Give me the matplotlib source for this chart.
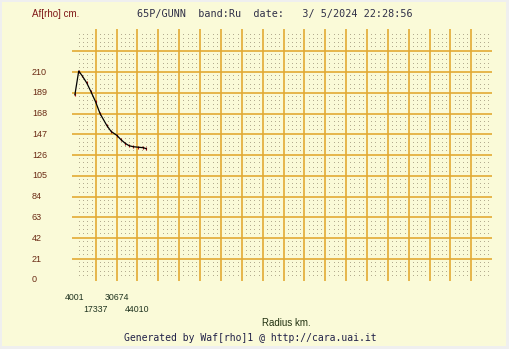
#!/usr/bin/env python

# Af[rho] profile for 65P/Gunn, redrawn in the style of the Waf[rho] output.

import numpy as np
import matplotlib

matplotlib.use("Agg")
import matplotlib.pyplot as plt
from matplotlib.patches import Rectangle
from matplotlib.transforms import blended_transform_factory

# data
radius_km = [4001, 6440, 8750, 11570, 14320, 17200, 20090, 24390, 27140,
             30800, 33550, 36120, 38680, 41440, 44640, 47850, 49570]
afrho_cm = [187, 211, 206, 199, 190, 180, 168, 156, 150,
            146, 141.5, 138, 135.5, 134.5, 134, 133.5, 132.5]
afrho_err = [1.5] * len(radius_km)

x_tick_labels = ["4001", "17337", "30674", "44010"]
y_tick_values = [0, 21, 42, 63, 84, 105, 126, 147, 168, 189, 210]

title = "65P/GUNN  band:Ru  date:   3/ 5/2024 22:28:56"
footer = "Generated by Waf[rho]1 @ http://cara.uai.it"

W, H = 509, 349
bg = "#FAFAD8"
grid_col = "#E2AA34"
dot_col = "#B4AC90"

fig = plt.figure(figsize=(W / 100, H / 100), dpi=100, facecolor="#EFEFEF")
fig.patches.append(
    Rectangle((2 / W, 3 / H), 504 / W, 344 / H, transform=fig.transFigure,
              facecolor=bg, edgecolor="none", zorder=-10)
)

ax = fig.add_axes([72 / W, 68 / H, 420 / W, 252 / H])
ax.set_zorder(1)
ax.set_facecolor(bg)
for s in ax.spines.values():
    s.set_visible(False)

x_step = 13336.33
x0 = float(x_tick_labels[0])
ax.set_xlim(2150, 270600)
ax.set_ylim(-1.2, 253.5)

# major grid
xmaj = x0 + x_step * np.arange(1, 20)
ymaj = np.arange(21, 232, 21)
for xv in xmaj:
    ax.axvline(xv, color=grid_col, lw=1.2, zorder=1)
for yv in ymaj:
    ax.axhline(yv, color=grid_col, lw=1.2, zorder=1)

# dotted minor grid (dots at minor intersections)
xmin = x0 + x_step / 5 * np.arange(-1, 101)
ymin = 21 / 5 * np.arange(0, 61)
gx, gy = np.meshgrid(xmin, ymin)
keep = (np.abs(((gx - x0) / x_step) - np.round((gx - x0) / x_step)) > 0.05) & \
       (np.abs((gy / 21) - np.round(gy / 21)) > 0.05)
ax.plot(gx[keep], gy[keep], ",", color=dot_col, zorder=0.5)

ax.set_xticks([])
ax.set_yticks([])

# curve with small error ticks
ax.errorbar(radius_km, afrho_cm, yerr=afrho_err, fmt="none",
            ecolor="#B01010", elinewidth=0.8, capsize=0, zorder=3)
ax.plot(radius_km, afrho_cm, color="black", lw=0.9, zorder=4)

font = "Liberation Sans"

# y labels
ytr = blended_transform_factory(fig.transFigure, ax.transData)
for v in y_tick_values:
    fig.text(32 / W, v, str(v), transform=ytr, ha="left", va="center",
             fontsize=6.5, color="#6A2A14", family=font)

# x labels, staggered in two rows
xtr = blended_transform_factory(ax.transData, fig.transFigure)
for i, lab in enumerate(x_tick_labels):
    xv = x0 + x_step * i
    yy = 1 - (298 if i % 2 == 0 else 310) / H
    ax.text(xv, yy, lab, transform=xtr, ha="center", va="center",
            fontsize=6.3, color="#203420", family=font)

fig.text(32 / W, 1 - 14 / H, "Af[rho] cm.", ha="left", va="center",
         fontsize=7, color="#801818", family=font)
fig.text(137 / W, 1 - 14 / H, title, ha="left", va="center",
         fontsize=7.3, color="#303048", family="DejaVu Sans Mono")
fig.text(262 / W, 1 - 323 / H, "Radius km.", ha="left", va="center",
         fontsize=7, color="#203010", family=font)
fig.text(124 / W, 1 - 338 / H, footer, ha="left", va="center",
         fontsize=7.0, color="#202048", family="DejaVu Sans Mono")

fig.savefig("out.png", dpi=100, facecolor=fig.get_facecolor())
